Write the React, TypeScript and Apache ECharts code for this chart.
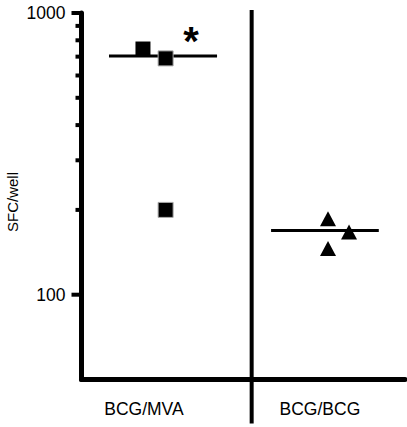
import React, { useEffect, useRef } from "react";
import * as echarts from "echarts";

// Group labels and their horizontal centres (0–100 scale across the plot)
const groupLabels = ["BCG/MVA", "BCG/BCG"];
const groupLabelX = [19.3, 73.7];
const dividerX = [52.6];

// BCG/MVA points (x jitter, SFC/well)
const mvaX = [19.0, 26.0, 26.0];
const mvaY = [745, 690, 200];
const mvaMedian = 703;
const mvaMedianX = [8.5, 41.9];

// BCG/BCG points
const bcgX = [76.2, 82.7, 76.2];
const bcgY = [186, 167, 146];
const bcgMedian = 169;
const bcgMedianX = [58.6, 91.9];

// Y axis ticks
const majorTicks = [100, 1000];
const minorTicks = [200, 300, 400, 500, 600, 700, 800, 900];
const yMin = 50;
const yMax = 1000;

const FONT = "'Liberation Sans', Arial, Helvetica, sans-serif";

export default function App() {
  const ref = useRef<HTMLDivElement>(null);
  useEffect(() => {
    if (!ref.current) return;
    document.body.style.margin = "0";
    const chart = echarts.init(ref.current, undefined, { renderer: "svg" });
    const tickData = [
      ...majorTicks.map((v) => [0, v, 1]),
      ...minorTicks.map((v) => [0, v, 0]),
    ];
    const option: any = {
      animation: false,
      grid: { left: 81.5, right: 2, top: 13, bottom: 47.5 },
      xAxis: {
        type: "value",
        min: 0,
        max: 100,
        axisLine: { show: true, lineStyle: { color: "#000", width: 5 } },
        axisTick: { show: false },
        axisLabel: { show: false },
        splitLine: { show: false },
      },
      yAxis: {
        type: "log",
        logBase: 10,
        min: yMin,
        max: yMax,
        axisLine: { show: true, lineStyle: { color: "#000", width: 5 } },
        axisTick: { show: false },
        splitLine: { show: false },
        axisLabel: {
          margin: 16,
          fontSize: 17.5,
          fontFamily: FONT,
          color: "#000",
          showMinLabel: true,
          showMaxLabel: true,
          formatter: (v: number) => {
            const r = Math.round(v);
            return majorTicks.includes(r) ? String(r) : "";
          },
        },
      },
      graphic: [
        {
          type: "text",
          x: 12,
          y: 202,
          rotation: Math.PI / 2,
          style: {
            text: "SFC/well",
            textAlign: "center",
            textVerticalAlign: "middle",
            fontSize: 15,
            fontFamily: FONT,
            fill: "#000",
          },
        },
        {
          type: "text",
          x: 191,
          y: 21,
          style: {
            text: "*",
            textAlign: "center",
            textVerticalAlign: "top",
            fontSize: 40,
            fontWeight: "bold",
            fontFamily: FONT,
            fill: "#000",
          },
        },
      ],
      series: [
        {
          type: "custom",
          clip: false,
          silent: true,
          encode: { x: 0, y: 1 },
          data: tickData,
          renderItem: (params: any, api: any) => {
            const p = api.coord([0, api.value(1)]);
            const len = api.value(2) === 1 ? 10 : 6;
            return {
              type: "rect",
              shape: { x: p[0] - len, y: p[1] - 2, width: len, height: 4 },
              style: { fill: "#000" },
            };
          },
        },
        {
          type: "custom",
          clip: false,
          silent: true,
          encode: { x: 0 },
          data: dividerX.map((x) => [x, yMin]),
          renderItem: (params: any, api: any) => {
            const top = api.coord([api.value(0), yMax]);
            const bot = api.coord([api.value(0), yMin]);
            return {
              type: "line",
              shape: { x1: top[0], y1: top[1] - 3, x2: bot[0], y2: bot[1] + 44 },
              style: { stroke: "#000", lineWidth: 4 },
            };
          },
        },
        {
          type: "custom",
          clip: false,
          silent: true,
          encode: { x: 0, y: 1 },
          data: groupLabelX.map((x) => [x, yMin]),
          renderItem: (params: any, api: any) => {
            const p = api.coord([api.value(0), yMin]);
            return {
              type: "text",
              x: p[0],
              y: p[1] + 29.5,
              style: {
                text: groupLabels[params.dataIndex],
                textAlign: "center",
                textVerticalAlign: "middle",
                fontSize: 17.5,
                fontFamily: FONT,
                fill: "#000",
              },
            };
          },
        },
        {
          type: "line",
          data: mvaMedianX.map((x) => [x, mvaMedian]),
          symbol: "none",
          lineStyle: { color: "#000", width: 3 },
          z: 2,
        },
        {
          type: "line",
          data: bcgMedianX.map((x) => [x, bcgMedian]),
          symbol: "none",
          lineStyle: { color: "#000", width: 3 },
          z: 2,
        },
        {
          type: "scatter",
          symbol: "rect",
          symbolSize: 15,
          z: 3,
          data: mvaX.map((x, i) => ({
            value: [x, mvaY[i]],
            itemStyle:
              i === 0
                ? { color: "#000", opacity: 1 }
                : { color: "#000", opacity: 1, borderColor: "#aaa", borderWidth: 1 },
          })),
        },
        {
          type: "scatter",
          symbol: "triangle",
          symbolSize: [16, 15],
          z: 3,
          itemStyle: { color: "#000", opacity: 1 },
          data: bcgX.map((x, i) => [x, bcgY[i]]),
        },
      ],
    };
    chart.setOption(option);
    return () => chart.dispose();
  }, []);
  return <div ref={ref} style={{ width: 407, height: 427 }} />;
}
